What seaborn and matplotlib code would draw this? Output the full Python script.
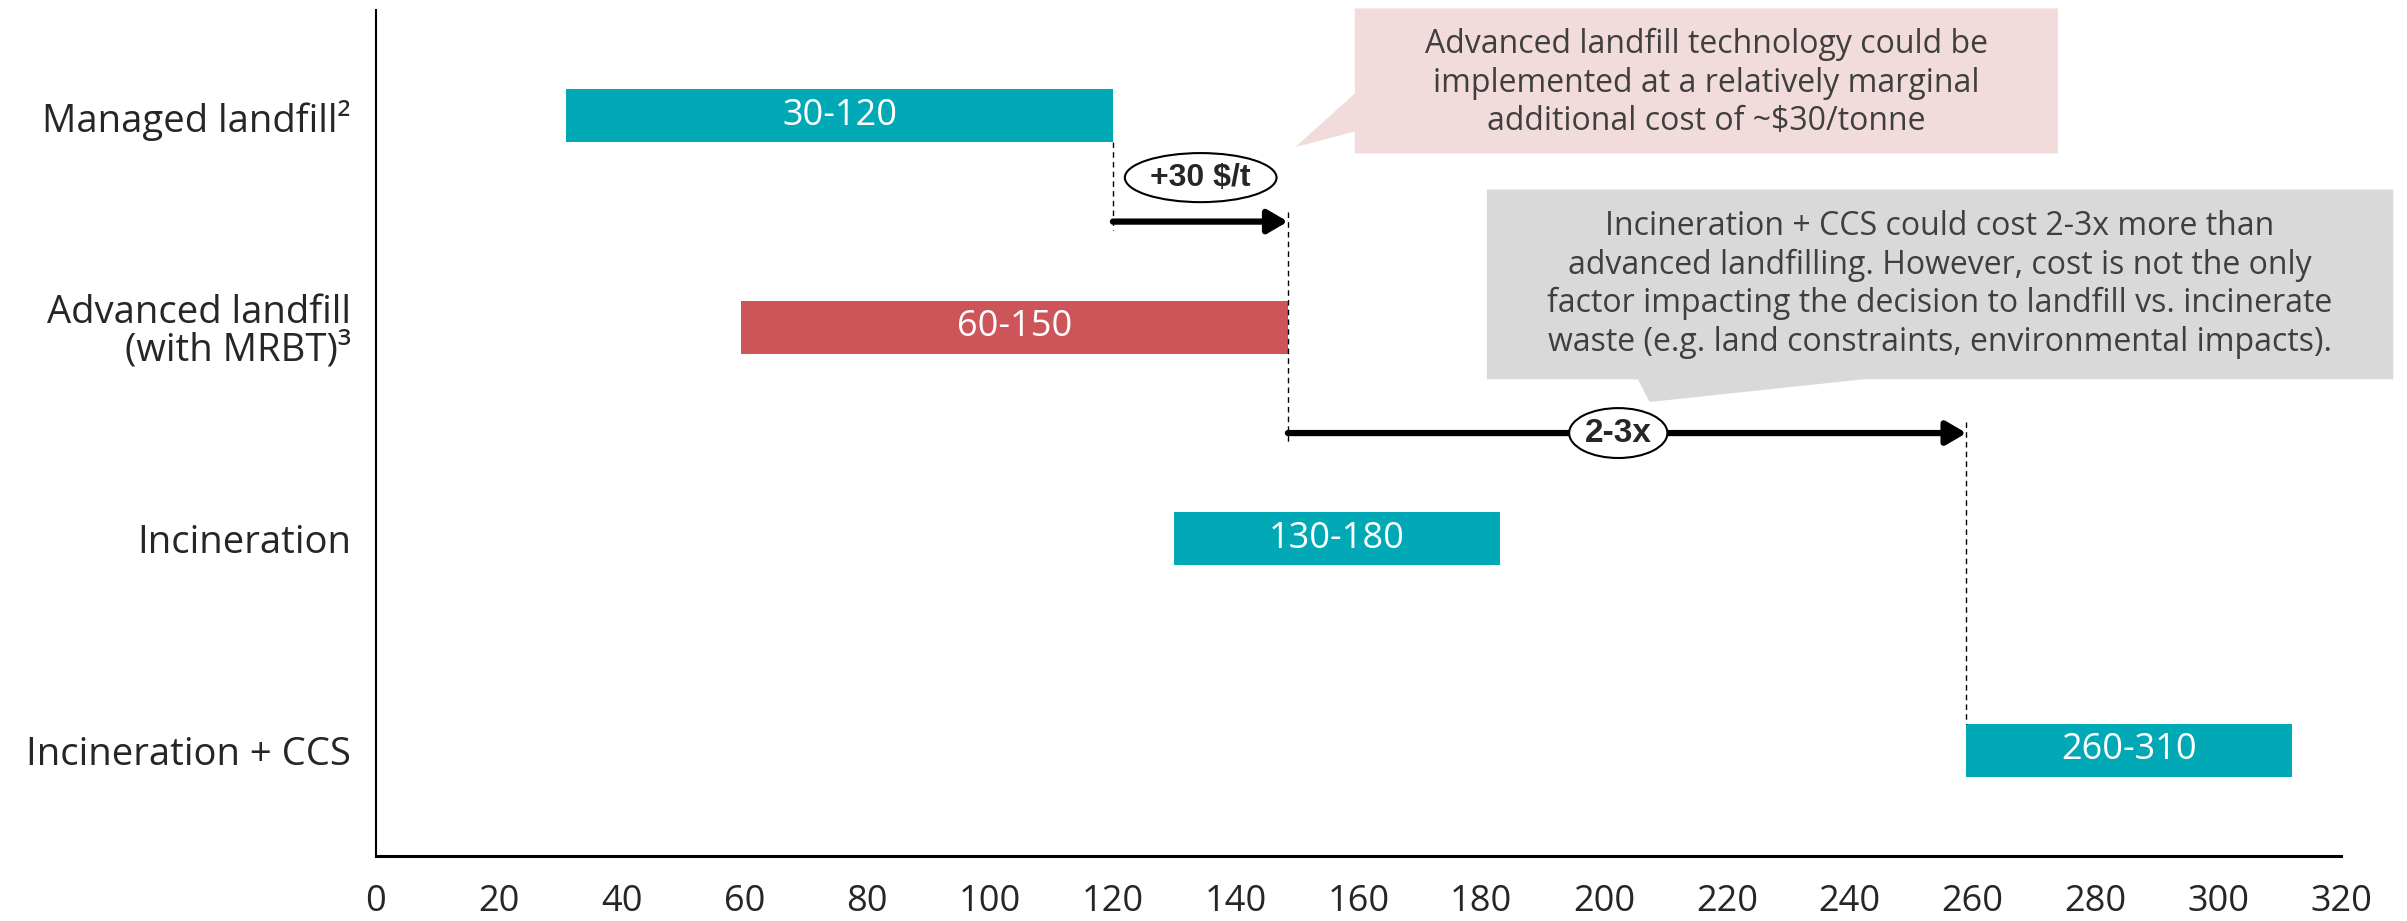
import numpy as np
import pandas as pd
import matplotlib
matplotlib.use('Agg')
import matplotlib.pyplot as plt
from matplotlib.patches import Ellipse, Polygon
import seaborn as sns

# Cost ranges ($/tonne) per treatment option
categories = ['Managed landfill²', 'Advanced landfill\n(with MRBT)³', 'Incineration', 'Incineration + CCS']
cost_low = [31, 59.5, 130, 259]
cost_high = [120, 148.5, 183, 312]
range_labels = ['30-120', '60-150', '130-180', '260-310']
bar_colors = ['#00A9B5', '#CD555A', '#00A9B5', '#00A9B5']

x_ticks = list(range(0, 321, 20))

step_labels = ['+30 $/t', '2-3x']

note_landfill = 'Advanced landfill technology could be\nimplemented at a relatively marginal\nadditional cost of ~$30/tonne'
note_ccs = ('Incineration + CCS could cost 2-3x more than\nadvanced landfilling. However, cost is not the only\n'
            'factor impacting the decision to landfill vs. incinerate\nwaste (e.g. land constraints, environmental impacts).')

sns.set_style('white')
plt.rcParams['font.family'] = ['Open Sans', 'DejaVu Sans']

df = pd.DataFrame({'category': categories,
                   'span': np.array(cost_high) - np.array(cost_low)})

fig = plt.figure(figsize=(24.07, 9.21), dpi=100)
ax = fig.add_axes([0.1562, 0.0706, 0.8164, 0.9184])

sns.barplot(data=df, x='span', y='category', hue='category', palette=bar_colors,
            width=0.25, saturation=1, legend=False, ax=ax)

# shift each bar so it starts at the low end of its range
for patch, lo, lab in zip(ax.patches, cost_low, range_labels):
    patch.set_x(lo)
    patch.set_linewidth(0)
    ax.text(lo + patch.get_width() / 2, patch.get_y() + patch.get_height() / 2, lab,
            color='white', fontsize=26, ha='center', va='center', zorder=5)

ax.set_xlim(0, 320)
ax.set_ylim(3.5, -0.5)
ax.set_xticks(x_ticks)
ax.set_xlabel('')
ax.set_ylabel('')

for s in ['top', 'right']:
    ax.spines[s].set_visible(False)
ax.spines['left'].set_linewidth(1.5)
ax.spines['bottom'].set_linewidth(2.2)
ax.spines['left'].set_color('black')
ax.spines['bottom'].set_color('black')

ax.tick_params(axis='x', direction='out', length=8, width=1, color='black', labelsize=26, pad=12)
ax.tick_params(axis='y', length=0, labelsize=27.5, pad=18)
for t in ax.get_yticklabels():
    t.set_linespacing(1.0)
    t.set_ha('right')

# dashed guides and step arrows
dash = dict(color='black', lw=1, linestyle=(0, (4, 3)), zorder=3)
ax.plot([cost_high[0], cost_high[0]], [0.125, 0.54], **dash)
ax.plot([cost_high[1], cost_high[1]], [0.455, 1.54], **dash)
ax.plot([cost_low[3], cost_low[3]], [1.45, 3 - 0.125], **dash)

arrow_props = dict(arrowstyle='-|>,head_length=0.6,head_width=0.35', lw=4.5, color='black',
                   mutation_scale=20, shrinkA=0, shrinkB=0)
ax.annotate('', xy=(cost_high[1], 0.5), xytext=(cost_high[0], 0.5), arrowprops=arrow_props, zorder=4)
ax.annotate('', xy=(cost_low[3], 1.5), xytext=(cost_high[1], 1.5), arrowprops=arrow_props, zorder=4)

# oval step labels
bold_family = ['Liberation Sans Narrow', 'Liberation Sans', 'DejaVu Sans']
ax.add_patch(Ellipse((134.3, 0.292), 24.7, 0.232, facecolor='white', edgecolor='black', lw=1.5, zorder=6))
ax.text(134.3, 0.292, step_labels[0], fontsize=23, fontweight='bold', ha='center', va='center',
        family=bold_family, zorder=7)
ax.add_patch(Ellipse((202.3, 1.5), 16, 0.236, facecolor='white', edgecolor='black', lw=1.5, zorder=6))
ax.text(202.3, 1.5, step_labels[1], fontsize=24, fontweight='bold', ha='center', va='center',
        family=bold_family, zorder=7)

# callout boxes
pink = Polygon([(159.4, -0.508), (273.9, -0.508), (273.9, 0.178), (159.4, 0.178),
                (159.4, 0.074), (149.7, 0.148), (159.4, -0.106)],
               closed=True, facecolor='#F2DCDB', edgecolor='none', zorder=2, clip_on=False)
ax.add_patch(pink)
ax.text(216.7, -0.155, note_landfill, fontsize=23, color='#3F3F3F', ha='center', va='center',
        linespacing=1.22, zorder=3, clip_on=False)

grey = Polygon([(180.9, 0.348), (328.5, 0.348), (328.5, 1.246), (242.2, 1.246),
                (207.4, 1.353), (205.5, 1.246), (180.9, 1.246)],
               closed=True, facecolor='#D9D9D9', edgecolor='none', zorder=2, clip_on=False)
ax.add_patch(grey)
ax.text(254.7, 0.797, note_ccs, fontsize=23, color='#3F3F3F', ha='center', va='center',
        linespacing=1.22, zorder=3, clip_on=False)

fig.savefig('out.png', dpi=100)
